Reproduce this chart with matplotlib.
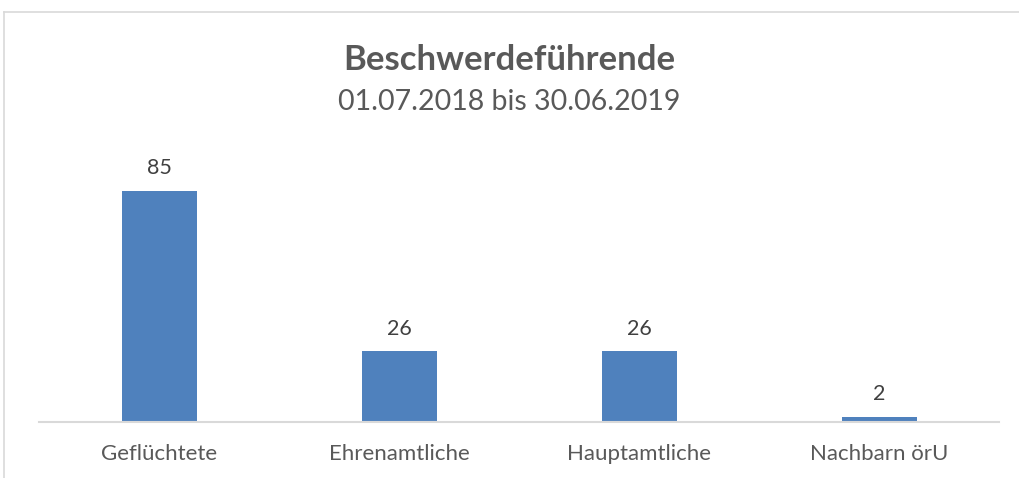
import matplotlib
matplotlib.use('Agg')
import matplotlib.pyplot as plt
from matplotlib.lines import Line2D

# Chart data
categories = ['Geflüchtete', 'Ehrenamtliche', 'Hauptamtliche', 'Nachbarn örU']
values = [85, 26, 26, 2]

title = 'Beschwerdeführende'
subtitle = '01.07.2018 bis 30.06.2019'

bar_color = '#4F81BD'
text_color = '#595959'
grid_color = '#D9D9D9'


def plot_chart():
    plt.rcParams['font.family'] = ['Lato', 'DejaVu Sans']

    fig = plt.figure(figsize=(10.19, 4.78), dpi=100)
    W, H = 1019, 478

    # plot area: baseline at y=422px, 4 slots of 240px starting at x=39
    ymax = 90
    px_per_unit = 231 / 85
    ax = fig.add_axes([39 / W, (H - 422) / H, 960 / W, ymax * px_per_unit / H])

    x = list(range(len(categories)))
    bars = ax.bar(x, values, width=0.3125, color=bar_color, zorder=2)
    ax.set_xlim(-0.5, len(categories) - 0.5)
    ax.set_ylim(0, ymax)

    for rect, v in zip(bars, values):
        ax.annotate(str(v), (rect.get_x() + rect.get_width() / 2, v),
                    xytext=(0, 9), textcoords='offset points',
                    ha='center', va='bottom', fontsize=15.5, color='#404040')

    ax.set_xticks(x)
    ax.set_xticklabels(categories, fontsize=16, color=text_color)
    ax.tick_params(axis='x', length=0, pad=16)
    ax.set_yticks([])
    for side in ['top', 'right', 'left']:
        ax.spines[side].set_visible(False)
    ax.spines['bottom'].set_color(grid_color)
    ax.spines['bottom'].set_linewidth(1.5)

    # titles
    fig.text(0.5, 1 - 60 / H, title, ha='center', va='center',
             fontsize=25, fontweight='bold', color=text_color)
    fig.text(0.5, 1 - 102 / H, subtitle, ha='center', va='center',
             fontsize=20.5, color=text_color)

    # chart frame (only top and left edges visible in the crop)
    fig.add_artist(Line2D([4 / W, 1], [1 - 12 / H, 1 - 12 / H],
                          transform=fig.transFigure, color=grid_color, lw=1.2))
    fig.add_artist(Line2D([4 / W, 4 / W], [0, 1 - 12 / H],
                          transform=fig.transFigure, color=grid_color, lw=1.2))

    fig.savefig('out.png', dpi=100, facecolor='white')


if __name__ == '__main__':
    plot_chart()
